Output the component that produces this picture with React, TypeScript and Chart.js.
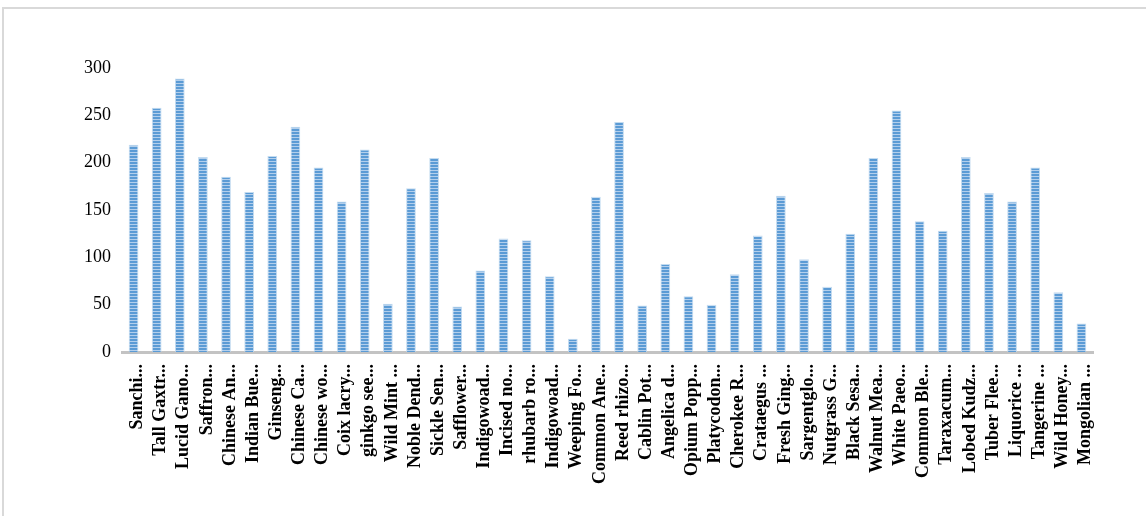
import React, { useEffect, useRef } from "react";
import { Chart, registerables } from "chart.js";

Chart.register(...registerables);

// Herb names (truncated as shown on the axis)
const herbLabels: string[] = [
  "Sanchi...", "Tall Gaxtr...", "Lucid Gano...", "Saffron...", "Chinese An...",
  "Indian Bue...", "Ginseng...", "Chinese Ca...", "Chinese wo...", "Coix lacry...",
  "ginkgo see...", "Wild Mint ...", "Noble Dend...", "Sickle Sen...", "Safflower...",
  "Indigowoad...", "Incised no...", "rhubarb ro...", "Indigowoad...", "Weeping Fo...",
  "Common Ane...", "Reed rhizo...", "Cablin Pot...", "Angelica d...", "Opium Popp...",
  "Platycodon...", "Cherokee R...", "Crataegus ...", "Fresh Ging...", "Sargentglo...",
  "Nutgrass G...", "Black Sesa...", "Walnut Mea...", "White Paeo...", "Common Ble...",
  "Taraxacum...", "Lobed Kudz...", "Tuber Flee...", "Liquorice ...", "Tangerine ...",
  "Wild Honey...", "Mongolian ...",
];

// Count per herb
const herbCounts: number[] = [
  219, 258, 289, 206, 185,
  169, 207, 238, 195, 159,
  214, 51, 173, 205, 48,
  86, 120, 118, 80, 14,
  164, 243, 49, 93, 59,
  50, 82, 123, 165, 98,
  69, 125, 205, 255, 138,
  128, 206, 168, 159, 195,
  63, 30,
];

const yTicks: number[] = [0, 50, 100, 150, 200, 250, 300];

function makeStripePattern(): CanvasPattern | string {
  const c = document.createElement("canvas");
  c.width = 4;
  c.height = 3;
  const g = c.getContext("2d");
  if (!g) return "#5b9bd5";
  g.fillStyle = "#5b9bd5";
  g.fillRect(0, 0, 4, 2);
  g.fillStyle = "#b3cfec";
  g.fillRect(0, 2, 4, 1);
  const p = g.createPattern(c, "repeat");
  return p || "#5b9bd5";
}

export default function App() {
  const canvasRef = useRef<HTMLCanvasElement | null>(null);

  useEffect(() => {
    const canvas = canvasRef.current;
    if (!canvas) return;
    const stripes = makeStripePattern();
    const chart = new Chart(canvas, {
      type: "bar",
      data: {
        labels: herbLabels,
        datasets: [
          {
            data: herbCounts,
            backgroundColor: stripes as any,
            borderColor: "rgba(189,215,238,0.9)",
            borderWidth: 1,
            barPercentage: 0.42,
            categoryPercentage: 1,
          },
        ],
      },
      options: {
        animation: false,
        responsive: false,
        maintainAspectRatio: false,
        layout: { padding: { left: 0, right: 53, top: 68, bottom: 0 } },
        plugins: {
          legend: { display: false },
          tooltip: { enabled: false },
        },
        scales: {
          x: {
            grid: { display: false, drawTicks: false },
            border: { display: true, color: "#c3c3c3", width: 3 },
            ticks: {
              autoSkip: false,
              maxRotation: 90,
              minRotation: 90,
              padding: 12,
              labelOffset: 4,
              color: "#000000",
              font: { family: "'Liberation Serif', 'Times New Roman', serif", size: 18, weight: "bold" },
            },
            afterFit: (s: any) => {
              s.height = 164;
            },
          },
          y: {
            min: 0,
            max: 300,
            grid: { display: false, drawTicks: false },
            border: { display: false },
            afterBuildTicks: (s: any) => {
              s.ticks = yTicks.map((v) => ({ value: v }));
            },
            ticks: {
              padding: 11,
              color: "#000000",
              font: { family: "'Liberation Serif', 'Times New Roman', serif", size: 18 },
            },
            afterFit: (s: any) => {
              s.width = 122;
            },
          },
        },
      },
    });
    return () => chart.destroy();
  }, []);

  return (
    <div
      style={{
        position: "fixed",
        left: 0,
        top: 0,
        width: 1146,
        height: 516,
        overflow: "hidden",
        background: "#ffffff",
      }}
    >
      <div
        style={{
          position: "absolute",
          left: 2,
          top: 7,
          width: 1200,
          height: 600,
          border: "2px solid #d9d9d9",
        }}
      />
      <canvas
        ref={canvasRef}
        width={1146}
        height={516}
        style={{ position: "absolute", left: 0, top: 0, width: 1146, height: 516 }}
      />
    </div>
  );
}
